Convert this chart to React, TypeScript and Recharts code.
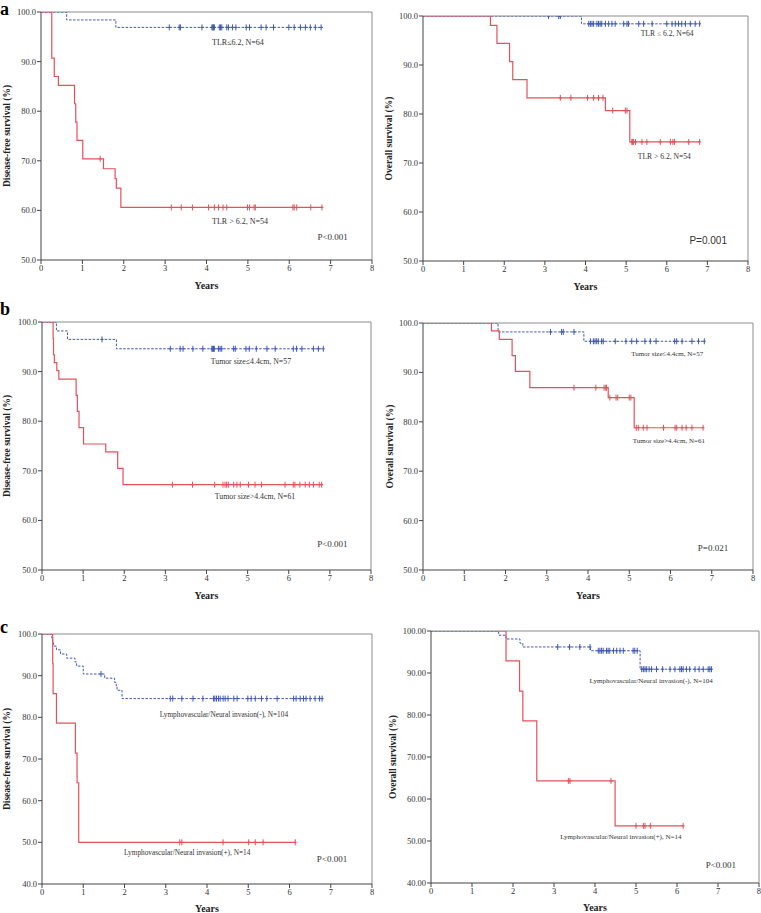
import React from 'react';
import { ComposedChart, Line, Scatter, XAxis, YAxis, ReferenceLine, ReferenceDot } from 'recharts';

type Step = [number, number];

const years = [0, 1, 2, 3, 4, 5, 6, 7, 8];
const ticks50 = [50, 60, 70, 80, 90, 100];
const ticks40 = [40, 50, 60, 70, 80, 90, 100];

// a: TLR, disease-free survival
const aDfsLow: Step[] = [[0, 100], [0.62, 98.4], [1.81, 96.9], [6.81, 96.9]];
const aDfsLowCensor = [3.1, 3.34, 3.37, 3.89, 4.13, 4.15, 4.17, 4.19, 4.31, 4.34, 4.37, 4.49, 4.53, 4.63, 4.71, 4.96, 5.04, 5.32, 5.44, 5.62, 5.99, 6.12, 6.27, 6.39, 6.51, 6.63, 6.77];
const aDfsHigh: Step[] = [[0, 100], [0.26, 90.7], [0.32, 87.0], [0.42, 85.2], [0.81, 81.5], [0.84, 77.8], [0.87, 74.1], [1.01, 70.4], [1.51, 68.4], [1.79, 66.4], [1.82, 64.5], [1.93, 60.6], [6.81, 60.6]];
const aDfsHighCensor = [1.43, 3.15, 3.39, 3.66, 4.05, 4.19, 4.29, 4.4, 4.49, 4.99, 5.04, 5.15, 5.18, 6.09, 6.12, 6.18, 6.52, 6.79];

// a: TLR, overall survival
const aOsLow: Step[] = [[0, 100], [3.9, 98.4], [6.81, 98.4]];
const aOsLowCensor = [3.09, 3.34, 3.38, 4.08, 4.12, 4.16, 4.2, 4.28, 4.32, 4.36, 4.4, 4.49, 4.57, 4.65, 4.73, 4.94, 5.02, 5.06, 5.31, 5.43, 5.64, 6.0, 6.13, 6.21, 6.29, 6.37, 6.46, 6.58, 6.7, 6.81];
const aOsHigh: Step[] = [[0, 100], [1.66, 98.1], [1.82, 94.4], [2.13, 90.7], [2.21, 87.0], [2.56, 83.3], [4.49, 80.7], [5.09, 74.3], [6.81, 74.3]];
const aOsHighCensor = [3.38, 3.64, 4.05, 4.2, 4.32, 4.43, 4.67, 4.98, 5.02, 5.14, 5.16, 5.18, 5.23, 5.39, 5.51, 5.84, 6.09, 6.15, 6.19, 6.54, 6.81];

// b: tumor size, disease-free survival
const bDfsLow: Step[] = [[0, 100], [0.35, 98.2], [0.62, 96.5], [1.81, 94.6], [6.84, 94.6]];
const bDfsLowCensor = [1.46, 3.12, 3.36, 3.43, 3.67, 3.91, 4.13, 4.15, 4.17, 4.19, 4.29, 4.33, 4.37, 4.66, 4.7, 4.96, 5.04, 5.21, 5.47, 5.67, 6.11, 6.19, 6.32, 6.6, 6.72, 6.84];
const bDfsHigh: Step[] = [[0, 100], [0.27, 96.7], [0.28, 93.4], [0.3, 91.8], [0.36, 90.2], [0.41, 88.5], [0.83, 85.2], [0.86, 82.0], [0.9, 78.7], [1.01, 75.4], [1.55, 73.8], [1.84, 70.5], [1.97, 67.2], [6.83, 67.2]];
const bDfsHighCensor = [3.17, 3.66, 4.2, 4.4, 4.45, 4.49, 4.53, 4.66, 4.74, 4.82, 5.02, 5.18, 5.34, 5.91, 6.11, 6.15, 6.27, 6.4, 6.5, 6.6, 6.74, 6.8];

// b: tumor size, overall survival
const bOsLow: Step[] = [[0, 100], [1.82, 98.2], [3.9, 96.3], [6.82, 96.3]];
const bOsLowCensor = [3.09, 3.36, 3.4, 3.66, 4.06, 4.13, 4.17, 4.21, 4.25, 4.33, 4.37, 4.66, 4.92, 5.06, 5.18, 5.38, 5.51, 5.65, 6.1, 6.15, 6.28, 6.52, 6.68, 6.82];
const bOsHigh: Step[] = [[0, 100], [1.66, 98.4], [1.85, 96.7], [2.16, 93.4], [2.24, 90.2], [2.59, 86.9], [4.49, 84.9], [5.12, 78.8], [6.79, 78.8]];
const bOsHighCensor = [3.66, 4.19, 4.39, 4.43, 4.45, 4.53, 4.68, 4.72, 5.0, 5.04, 5.17, 5.22, 5.34, 5.43, 5.83, 6.11, 6.15, 6.28, 6.38, 6.52, 6.79];

// c: lymphovascular/neural invasion, disease-free survival
const cDfsNeg: Step[] = [[0, 100], [0.24, 99.0], [0.26, 98.1], [0.28, 97.1], [0.35, 96.2], [0.45, 95.2], [0.6, 94.2], [0.8, 93.3], [0.84, 92.3], [1.0, 90.4], [1.52, 89.4], [1.76, 88.4], [1.8, 87.4], [1.82, 86.5], [1.94, 84.5], [6.81, 84.5]];
const cDfsNegCensor = [1.43, 3.11, 3.17, 3.39, 3.66, 3.9, 4.16, 4.19, 4.23, 4.28, 4.32, 4.39, 4.44, 4.51, 4.65, 4.73, 4.99, 5.07, 5.17, 5.32, 5.45, 5.7, 6.1, 6.16, 6.26, 6.34, 6.4, 6.5, 6.62, 6.73, 6.79];
const cDfsPos: Step[] = [[0, 100], [0.26, 92.9], [0.27, 85.7], [0.35, 78.6], [0.81, 71.4], [0.85, 64.3], [0.89, 50.0], [6.14, 50.0]];
const cDfsPosCensor = [3.34, 3.39, 4.39, 5.01, 5.17, 5.36, 6.14];

// c: lymphovascular/neural invasion, overall survival
const cOsNeg: Step[] = [[0, 100], [1.65, 99.0], [1.83, 98.1], [2.17, 97.1], [2.24, 96.2], [3.89, 95.3], [5.1, 90.9], [6.84, 90.9]];
const cOsNegCensor = [3.09, 3.38, 3.63, 3.88, 4.08, 4.12, 4.16, 4.2, 4.28, 4.32, 4.36, 4.45, 4.53, 4.61, 4.69, 4.93, 4.97, 5.03, 5.14, 5.18, 5.22, 5.26, 5.32, 5.38, 5.5, 5.65, 5.83, 5.95, 6.07, 6.11, 6.15, 6.23, 6.31, 6.44, 6.54, 6.64, 6.76, 6.8, 6.84];
const cOsPos: Step[] = [[0, 100], [1.83, 92.9], [2.16, 85.7], [2.24, 78.6], [2.58, 64.3], [4.49, 53.6], [6.15, 53.6]];
const cOsPosCensor = [3.35, 3.39, 4.39, 5.0, 5.18, 5.22, 5.35, 6.15];

const BLUE = '#3f58b0';
const RED = '#e6505a';
const SERIF = '"Liberation Serif", "Times New Roman", serif';
const SANS = '"Liberation Sans", Arial, sans-serif';

interface Curve { steps: Step[]; censor: number[]; color: string; dashed?: boolean }
interface Note { text: string; t: number; s: number; size: number; sans?: boolean }
interface PanelProps {
  left: number; top: number; width: number;
  plot: [number, number, number, number];
  yDomain: [number, number]; yTicks: number[]; digits: number;
  curves: Curve[]; notes: Note[];
}

function survivalAt(steps: Step[], t: number) {
  let v = steps[0][1];
  for (const [x, s] of steps) if (x <= t) v = s;
  return v;
}

function censorShape(color: string) {
  return (p: any) => (
    <g>
      <line x1={p.cx} x2={p.cx} y1={p.cy - 3} y2={p.cy + 3} stroke={color} strokeWidth={1} />
      <line x1={p.cx - 1.5} x2={p.cx + 1.5} y1={p.cy} y2={p.cy} stroke={color} strokeWidth={1} />
    </g>
  );
}

function KMPanel({ left, top, width, plot, yDomain, yTicks, digits, curves, notes }: PanelProps) {
  const [x0, x1, y0, y1] = plot;
  const axisH = 22;
  const height = y1 - top + axisH;
  const tickStyle = { fontSize: 8.5, fill: '#333', fontFamily: SERIF };
  return (
    <div style={{ position: 'absolute', left, top }}>
      <ComposedChart
        width={width}
        height={height}
        margin={{ top: y0 - top, right: left + width - x1, left: 0, bottom: 0 }}
      >
        <XAxis
          type="number" dataKey="t" domain={[0, 8]} ticks={years} allowDataOverflow
          height={axisH} tick={tickStyle} tickSize={4} tickMargin={1}
          axisLine={{ stroke: '#444' }} tickLine={{ stroke: '#444' }}
        />
        <YAxis
          type="number" dataKey="s" domain={yDomain} ticks={yTicks} allowDataOverflow
          width={x0 - left} tick={tickStyle} tickSize={4} tickMargin={1}
          tickFormatter={(v: number) => v.toFixed(digits)}
          axisLine={{ stroke: '#444' }} tickLine={{ stroke: '#444' }}
        />
        <ReferenceLine y={yDomain[1]} stroke="#8c8c8c" />
        <ReferenceLine x={8} stroke="#8c8c8c" />
        {curves.map((c, i) => (
          <Line
            key={'l' + i}
            data={c.steps.map(([t, s]) => ({ t, s }))}
            dataKey="s" type="stepAfter" stroke={c.color} strokeWidth={c.dashed ? 1 : 1.2}
            strokeDasharray={c.dashed ? '2.5 1.5' : undefined}
            dot={false} activeDot={false} isAnimationActive={false}
          />
        ))}
        {curves.map((c, i) => (
          <Scatter
            key={'c' + i}
            data={c.censor.map((t) => ({ t, s: survivalAt(c.steps, t) }))}
            dataKey="s" shape={censorShape(c.color)} isAnimationActive={false}
          />
        ))}
        {notes.map((n, i) => (
          <ReferenceDot
            key={'n' + i} x={n.t} y={n.s} r={0} fill="none" stroke="none"
            label={{ value: n.text, position: 'center', fontSize: n.size, fill: '#333', fontFamily: n.sans ? SANS : SERIF }}
          />
        ))}
      </ComposedChart>
    </div>
  );
}

const panels: (PanelProps & { yTitle: string; yTitleX: number; yearsY: number; letter?: string; letterY?: number })[] = [
  {
    left: 0, top: 0, width: 380, plot: [41, 372, 12, 260], yDomain: [50, 100], yTicks: ticks50, digits: 1,
    yTitle: 'Disease-free survival (%)', yTitleX: 7, yearsY: 285, letter: 'a', letterY: 15,
    curves: [
      { steps: aDfsLow, censor: aDfsLowCensor, color: BLUE, dashed: true },
      { steps: aDfsHigh, censor: aDfsHighCensor, color: RED },
    ],
    notes: [
      { text: 'TLR≤6.2, N=64', t: 4.76, s: 94.0, size: 8 },
      { text: 'TLR > 6.2, N=54', t: 4.81, s: 57.9, size: 8 },
      { text: 'P<0.001', t: 7.05, s: 54.6, size: 9 },
    ],
  },
  {
    left: 380, top: 0, width: 381, plot: [423, 748, 16, 261], yDomain: [50, 100], yTicks: ticks50, digits: 1,
    yTitle: 'Overall survival (%)', yTitleX: 389, yearsY: 286,
    curves: [
      { steps: aOsLow, censor: aOsLowCensor, color: BLUE, dashed: true },
      { steps: aOsHigh, censor: aOsHighCensor, color: RED },
    ],
    notes: [
      { text: 'TLR ≤ 6.2, N=64', t: 6.01, s: 96.5, size: 7.6 },
      { text: 'TLR > 6.2, N=54', t: 5.94, s: 71.4, size: 7.6 },
      { text: 'P=0.001', t: 7.02, s: 54.1, size: 10, sans: true },
    ],
  },
  {
    left: 0, top: 300, width: 380, plot: [42, 371, 322, 570], yDomain: [50, 100], yTicks: ticks50, digits: 1,
    yTitle: 'Disease-free survival (%)', yTitleX: 7, yearsY: 595, letter: 'b', letterY: 315,
    curves: [
      { steps: bDfsLow, censor: bDfsLowCensor, color: BLUE, dashed: true },
      { steps: bDfsHigh, censor: bDfsHighCensor, color: RED },
    ],
    notes: [
      { text: 'Tumor size≤4.4cm, N=57', t: 5.08, s: 92.1, size: 7.8 },
      { text: 'Tumor size>4.4cm, N=61', t: 5.18, s: 64.9, size: 7.8 },
      { text: 'P<0.001', t: 7.06, s: 55.2, size: 9 },
    ],
  },
  {
    left: 380, top: 300, width: 381, plot: [423, 753, 323, 570], yDomain: [50, 100], yTicks: ticks50, digits: 1,
    yTitle: 'Overall survival (%)', yTitleX: 390, yearsY: 595,
    curves: [
      { steps: bOsLow, censor: bOsLowCensor, color: BLUE, dashed: true },
      { steps: bOsHigh, censor: bOsHighCensor, color: RED },
    ],
    notes: [
      { text: 'Tumor size≤4.4cm, N=57', t: 5.92, s: 93.9, size: 7 },
      { text: 'Tumor size>4.4cm, N=61', t: 5.96, s: 76.3, size: 7 },
      { text: 'P=0.021', t: 7.03, s: 54.5, size: 9 },
    ],
  },
  {
    left: 0, top: 600, width: 380, plot: [42, 372, 634, 884], yDomain: [40, 100], yTicks: ticks40, digits: 1,
    yTitle: 'Disease-free survival (%)', yTitleX: 7, yearsY: 908, letter: 'c', letterY: 633,
    curves: [
      { steps: cDfsNeg, censor: cDfsNegCensor, color: BLUE, dashed: true },
      { steps: cDfsPos, censor: cDfsPosCensor, color: RED },
    ],
    notes: [
      { text: 'Lymphovascular/Neural invasion(-), N=104', t: 4.41, s: 80.8, size: 7.3 },
      { text: 'Lymphovascular/Neural invasion(+), N=14', t: 3.52, s: 47.7, size: 7.3 },
      { text: 'P<0.001', t: 7.03, s: 46.0, size: 9 },
    ],
  },
  {
    left: 380, top: 600, width: 381, plot: [431, 759, 631, 883], yDomain: [40, 100], yTicks: ticks40, digits: 2,
    yTitle: 'Overall survival (%)', yTitleX: 393, yearsY: 907,
    curves: [
      { steps: cOsNeg, censor: cOsNegCensor, color: BLUE, dashed: true },
      { steps: cOsPos, censor: cOsPosCensor, color: RED },
    ],
    notes: [
      { text: 'Lymphovascular/Neural invasion(-), N=104', t: 5.37, s: 88.3, size: 7 },
      { text: 'Lymphovascular/Neural invasion(+), N=14', t: 4.63, s: 51.0, size: 7 },
      { text: 'P<0.001', t: 7.07, s: 44.3, size: 9 },
    ],
  },
];

export default function App() {
  return (
    <div style={{ position: 'absolute', left: 0, top: 0, width: 761, height: 913, background: '#fff', overflow: 'hidden' }}>
      {panels.map((p, i) => (
        <KMPanel key={i} {...p} />
      ))}
      <svg width={761} height={913} style={{ position: 'absolute', left: 0, top: 0, pointerEvents: 'none' }}>
        {panels.map((p, i) => {
          const [x0, x1, y0, y1] = p.plot;
          const cy = (y0 + y1) / 2;
          return (
            <g key={i} fontFamily={SERIF} fontWeight="bold" fill="#222">
              <text
                x={p.yTitleX} y={cy} fontSize={9.5} textAnchor="middle" dominantBaseline="central"
                transform={`rotate(-90 ${p.yTitleX} ${cy})`}
              >
                {p.yTitle}
              </text>
              <text x={(x0 + x1) / 2} y={p.yearsY} fontSize={10} textAnchor="middle" dominantBaseline="central">
                Years
              </text>
              {p.letter && (
                <text x={0} y={p.letterY} fontSize={18} fill="#000">
                  {p.letter}
                </text>
              )}
            </g>
          );
        })}
      </svg>
    </div>
  );
}
